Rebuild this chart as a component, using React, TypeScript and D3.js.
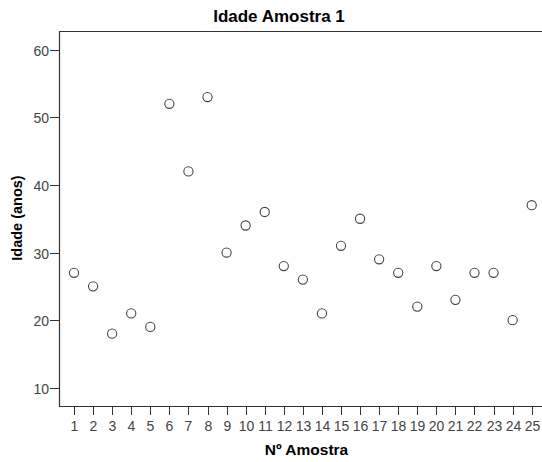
import React from "react"
import { scaleLinear } from "d3"

const width = 542
const height = 462

const samples = [1, 2, 3, 4, 5, 6, 7, 8, 9, 10, 11, 12, 13, 14, 15, 16, 17, 18, 19, 20, 21, 22, 23, 24, 25]
const ages = [27, 25, 18, 21, 19, 52, 42, 53, 30, 34, 36, 28, 26, 21, 31, 35, 29, 27, 22, 28, 23, 27, 27, 20, 37]
const yTicks = [10, 20, 30, 40, 50, 60]

const frame = { left: 59, top: 31, bottom: 406, right: 542 }
const font = "'Liberation Sans', Arial, sans-serif"
const ink = "#333"

function App() {
  const xScale = scaleLinear()
    .domain([0.213, 25.54])
    .range([frame.left, frame.right])

  const yScale = scaleLinear()
    .domain([7.3, 62.77])
    .range([frame.bottom, frame.top])

  return (
    <svg
      width={width}
      height={height}
      style={{ position: "absolute", left: 0, top: 0, background: "white" }}
      fontFamily={font}
    >
      <text x={279} y={22} textAnchor="middle" fontSize={17} fontWeight="bold" fill="#000">
        Idade Amostra 1
      </text>

      {/* frame: top, left, bottom */}
      <path
        d={`M${frame.right},${frame.top + 0.5}H${frame.left + 0.5}V${frame.bottom + 0.5}H${frame.right}`}
        fill="none"
        stroke={ink}
        strokeWidth={1.2}
      />

      {yTicks.map(t => (
        <g key={t} transform={`translate(0, ${Math.round(yScale(t)) + 0.5})`}>
          <line x1={50} x2={frame.left} stroke={ink} />
          <text x={49} dy="0.38em" textAnchor="end" fontSize={14} fill="#444">{t}</text>
        </g>
      ))}

      {samples.map(s => (
        <g key={s} transform={`translate(${Math.round(xScale(s)) + 0.5}, 0)`}>
          <line y1={frame.bottom} y2={frame.bottom + 9} stroke={ink} />
          <text y={430.5} textAnchor="middle" fontSize={14} fill="#444">{s}</text>
        </g>
      ))}

      {samples.map((s, i) => (
        <circle
          key={s}
          cx={xScale(s)}
          cy={yScale(ages[i])}
          r={4.6}
          fill="white"
          stroke="#444"
          strokeWidth={1.1}
        />
      ))}

      <text x={306.5} y={455} textAnchor="middle" fontSize={15.5} fontWeight="bold" fill="#000">
        Nº Amostra
      </text>
      <text
        transform="translate(22, 218) rotate(-90)"
        textAnchor="middle"
        fontSize={14.5}
        fontWeight="bold"
        fill="#000"
      >
        Idade (anos)
      </text>
    </svg>
  )
}

export default App
